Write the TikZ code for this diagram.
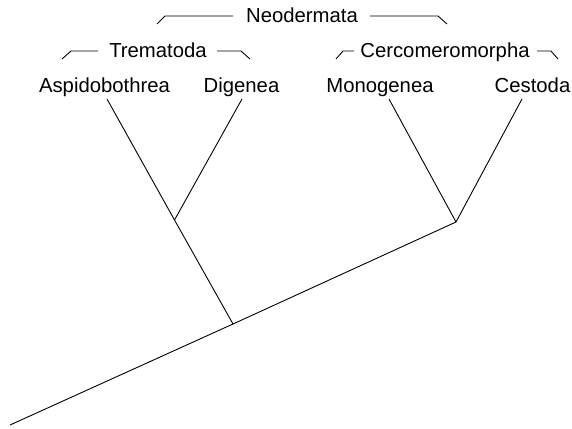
\documentclass[tikz,border=0pt]{standalone}
\usepackage{fontspec}
\setmainfont{Liberation Sans}
\begin{document}
\begin{tikzpicture}[x=1pt,y=-1pt,
  lbl/.style={anchor=base,inner sep=0pt,font=\fontsize{20.3}{22}\selectfont},
  br/.style={line width=0.9pt,line join=miter},
  edge/.style={line width=0.9pt}]
\useasboundingbox (0,0) rectangle (572,428);
% labels
\node[lbl] (asp) at (104.5,92) {Aspidobothrea};
\node[lbl] (dig) at (241.5,92) {Digenea};
\node[lbl] (mon) at (380,92) {Monogenea};
\node[lbl] (ces) at (532.5,92) {Cestoda};
\node[lbl] (trem) at (158,58) {Trematoda};
\node[lbl] (cerc) at (445,58) {Cercomeromorpha};
\node[lbl] (neo) at (302,23) {Neodermata};
% tree points
\coordinate (root) at (10,425);
\coordinate (nRoot) at (233,324);
\coordinate (nTrem) at (174.5,220);
\coordinate (nCerc) at (456,222);
\coordinate (tAsp) at (107,99);
\coordinate (tDig) at (242,99);
\coordinate (tMon) at (389,99);
\coordinate (tCes) at (522,99);
% edges
\draw[edge] (root) -- (nRoot) -- (nCerc);
\draw[edge] (nRoot) -- (nTrem) -- (tAsp);
\draw[edge] (nTrem) -- (tDig);
\draw[edge] (nCerc) -- (tMon);
\draw[edge] (nCerc) -- (tCes);
% brackets
\draw[br] (157,24) -- (165,16) -- (233,16);
\draw[br] (370,16) -- (438,16) -- (447,24);
\draw[br] (62,59) -- (71,51) -- (98,51);
\draw[br] (217,51) -- (241,51) -- (250,59);
\draw[br] (336,59) -- (343,51) -- (354,51);
\draw[br] (537,51) -- (551,51) -- (558,59);
\end{tikzpicture}
\end{document}
